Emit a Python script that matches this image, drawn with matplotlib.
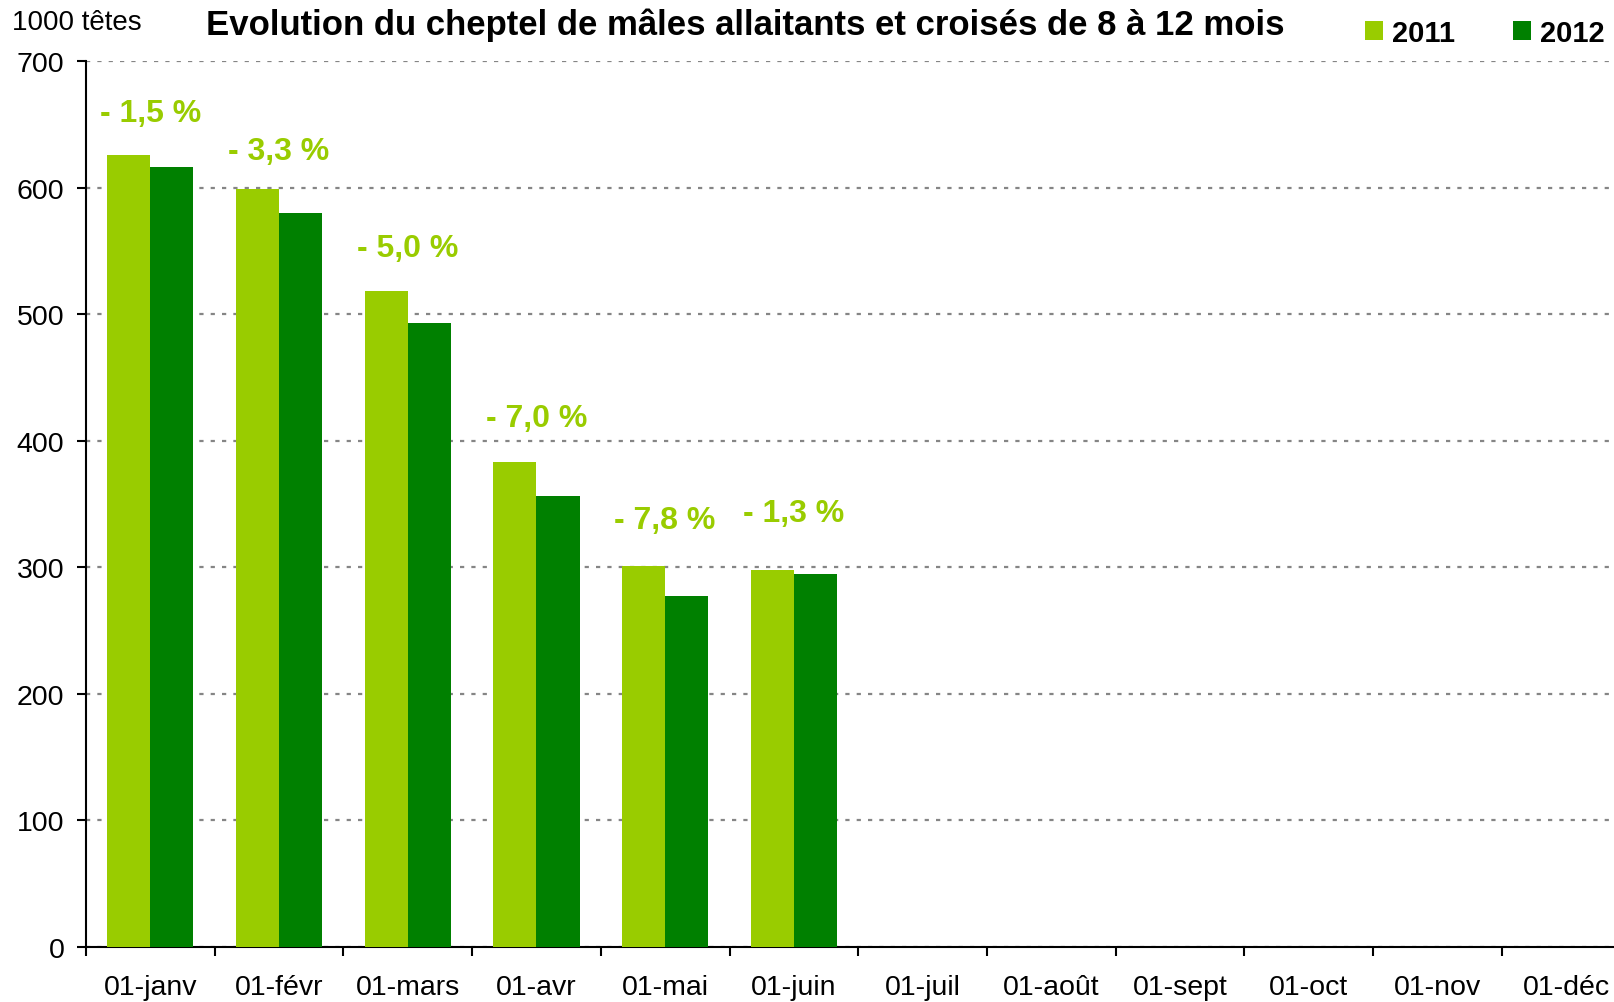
import numpy as np
import matplotlib
matplotlib.use("Agg")
import matplotlib.pyplot as plt

plt.rcParams['font.family'] = ['Liberation Sans', 'DejaVu Sans']

# data (1000 têtes)
mois = ['01-janv', '01-févr', '01-mars', '01-avr', '01-mai', '01-juin',
        '01-juil', '01-août', '01-sept', '01-oct', '01-nov', '01-déc']
v2011 = [626, 599, 518, 383, 301, 298]
v2012 = [616, 580, 493, 356, 277, 295]
evol = ['- 1,5 %', '- 3,3 %', '- 5,0 %', '- 7,0 %', '- 7,8 %', '- 1,3 %']

c2011 = '#99CC00'
c2012 = '#008000'

fig = plt.figure(figsize=(16.14, 10.03), dpi=100)
ax = fig.add_axes([86/1614, 55/1003, 1544.4/1614, 886/1003])

x = np.arange(len(v2011))
w = 0.335
ax.bar(x - w/2, v2011, w, color=c2011, label='2011', zorder=3)
ax.bar(x + w/2, v2012, w, color=c2012, label='2012', zorder=3)

# % labels above each pair (lift in data units, tuned by eye)
lift = [33, 30, 34, 35, 36, 45]
for i, t in enumerate(evol):
    top = max(v2011[i], v2012[i])
    ax.text(x[i], top + lift[i], t, ha='center', va='center',
            fontsize=23, fontweight='bold', color=c2011)

ax.set_xlim(-0.5, 11.5)
ax.set_ylim(0, 700)
ax.set_yticks(range(0, 701, 100))
ax.yaxis.grid(True, color='#858585', lw=1.6, linestyle=(0, (1.9, 3.2)), zorder=0)
ax.set_axisbelow(True)

ax.set_xticks(np.arange(12))
ax.set_xticklabels(mois)
ax.set_xticks(np.arange(-0.5, 12, 1), minor=True)
ax.tick_params(axis='x', which='major', length=0, pad=19.5, labelsize=20.5)
ax.tick_params(axis='x', which='minor', length=6.5, width=1.5, direction='out')
ax.tick_params(axis='y', length=6.5, width=1.5, pad=9, labelsize=20.5)

for s in ['top', 'right']:
    ax.spines[s].set_visible(False)
ax.spines['left'].set_linewidth(1.5)
ax.spines['bottom'].set_linewidth(1.5)

fig.text(12/1614, 1 - 23/1003, '1000 têtes', fontsize=20, ha='left', va='center')
fig.text(745/1614, 1 - 25/1003,
         'Evolution du cheptel de mâles allaitants et croisés de 8 à 12 mois',
         fontsize=25, fontweight='bold', ha='center', va='center')

leg = fig.legend(loc='center', bbox_to_anchor=(1485/1614, 1 - 34/1003), ncol=2,
                 frameon=False, prop={'weight': 'bold', 'size': 21},
                 handlelength=0.62, handleheight=0.62, handletextpad=0.31,
                 columnspacing=2.0, borderpad=0)

fig.savefig('out.png', dpi=100)
